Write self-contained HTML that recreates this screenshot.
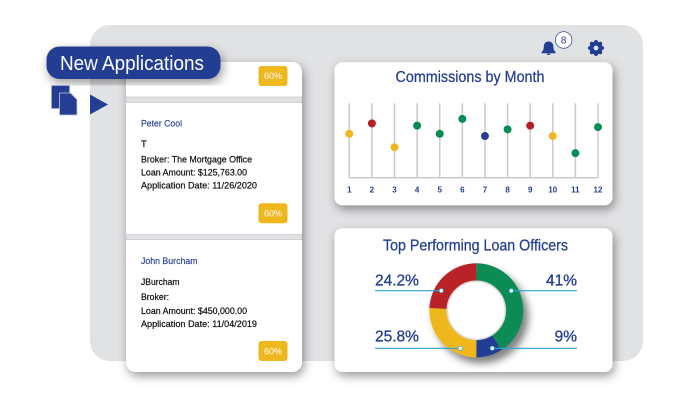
<!DOCTYPE html>
<html lang="en">
<head>
<meta charset="utf-8">
<title>Loan dashboard</title>
<style>
html,body{margin:0;padding:0;background:#fff}
svg{display:block}
text{font-family:"Liberation Sans",sans-serif}
.d{font-size:9.5px;fill:#111;stroke:#111;stroke-width:.22px}
.b{font-size:9px;fill:#fff;text-anchor:middle}
.n{stroke:#233e92;stroke-width:.15px}
.t{stroke:#233e92;stroke-width:.25px}
</style>
</head>
<body>
<svg id="page" width="696" height="402" viewBox="0 0 696 402" xmlns="http://www.w3.org/2000/svg">
<defs>
<filter id="sh" x="-20%" y="-20%" width="140%" height="140%"><feDropShadow dx="2" dy="4" stdDeviation="5" flood-color="#000" flood-opacity=".4"/></filter>
<filter id="sh2" x="-30%" y="-30%" width="170%" height="170%"><feDropShadow dx="5" dy="6" stdDeviation="4" flood-color="#000" flood-opacity=".5"/></filter>
<clipPath id="cc"><rect x="126" y="62" width="176" height="310" rx="10"/></clipPath>
</defs>
<rect x="90" y="25" width="553" height="336" rx="20" fill="#e1e2e4"/>

<g>
<rect x="126" y="62" width="176" height="310" rx="10" fill="#fff" filter="url(#sh)"/>
<g clip-path="url(#cc)">
<rect x="126" y="97" width="176" height="5.5" fill="#e1e2e4" stroke="#c9cacc" stroke-width=".8"/>
<rect x="126" y="234.5" width="176" height="5" fill="#e1e2e4" stroke="#c9cacc" stroke-width=".8"/>
</g>
<rect x="258.5" y="66" width="29" height="20" rx="3" fill="#efb71e"/>
<text class="b" x="273" y="79">60%</text>
<text class="n" x="141" y="126.7" font-size="9.5" fill="#233e92" textLength="41" lengthAdjust="spacingAndGlyphs">Peter Cool</text>
<text class="d" x="141" y="147">T</text>
<text class="d" x="141" y="162.7" textLength="111" lengthAdjust="spacingAndGlyphs">Broker: The Mortgage Office</text>
<text class="d" x="141" y="175.7" textLength="106" lengthAdjust="spacingAndGlyphs">Loan Amount: $125,763.00</text>
<text class="d" x="141" y="188.7" textLength="116" lengthAdjust="spacingAndGlyphs">Application Date: 11/26/2020</text>
<rect x="258.5" y="203.3" width="29" height="20" rx="3" fill="#efb71e"/>
<text class="b" x="273" y="216.5">60%</text>
<text class="n" x="141" y="264" font-size="9.5" fill="#233e92" textLength="56.5" lengthAdjust="spacingAndGlyphs">John Burcham</text>
<text class="d" x="141" y="285" textLength="38.5" lengthAdjust="spacingAndGlyphs">JBurcham</text>
<text class="d" x="141" y="300" textLength="28" lengthAdjust="spacingAndGlyphs">Broker:</text>
<text class="d" x="141" y="314" textLength="106" lengthAdjust="spacingAndGlyphs">Loan Amount: $450,000.00</text>
<text class="d" x="141" y="327" textLength="116" lengthAdjust="spacingAndGlyphs">Application Date: 11/04/2019</text>
<rect x="258.5" y="341" width="29" height="20" rx="3" fill="#efb71e"/>
<text class="b" x="273" y="354.5">60%</text>
</g>

<g>
<rect x="46.5" y="46.5" width="174" height="32.5" rx="13" fill="#233e92" filter="url(#sh)"/>
<text x="60" y="70" font-size="20" fill="#fff" textLength="144" lengthAdjust="spacingAndGlyphs">New Applications</text>
</g>
<g>
<rect x="51.5" y="85.5" width="18" height="23" fill="#233e92" stroke="#aab2d0" stroke-width=".6"/>
<path d="M59.5 93h11l6.5 6.5V115H59.5z" fill="#233e92" stroke="#c4c9de" stroke-width=".8"/>
</g>
<path d="M90 94.5L108 104.5L90 114.5z" fill="#233e92"/>

<g>
<path d="M548.6 41.5c-3.6 0-4.8 2.8-4.8 5.4 0 2.8-.9 3.9-2.2 5.2v1.2h14v-1.2c-1.3-1.3-2.2-2.4-2.2-5.2 0-2.6-1.2-5.4-4.8-5.4zM546.6 53.6a2.1 2.1 0 0 0 4 0z" fill="#233e92"/>
<circle cx="563.7" cy="40" r="8.3" fill="#fff" stroke="#233e92" stroke-width=".7"/>
<text x="563.7" y="43.5" font-size="10" fill="#233e92" text-anchor="middle">8</text>
</g>
<g>
<circle cx="596" cy="48" r="4.4" fill="none" stroke="#233e92" stroke-width="4"/>
<circle cx="596" cy="42" r="2" fill="#233e92"/><circle cx="596" cy="54" r="2" fill="#233e92"/>
<circle cx="590" cy="48" r="2" fill="#233e92"/><circle cx="602" cy="48" r="2" fill="#233e92"/>
<circle cx="591.8" cy="43.8" r="2" fill="#233e92"/><circle cx="600.2" cy="43.8" r="2" fill="#233e92"/>
<circle cx="591.8" cy="52.2" r="2" fill="#233e92"/><circle cx="600.2" cy="52.2" r="2" fill="#233e92"/>
</g>

<g>
<rect x="334.5" y="62.3" width="278" height="143" rx="8" fill="#fff" filter="url(#sh)"/>
<text class="t" x="395.5" y="82" font-size="16" fill="#233e92" textLength="149" lengthAdjust="spacingAndGlyphs">Commissions by Month</text>
<g id="lollipop"></g>
</g>

<g>
<rect x="334.5" y="228.3" width="278" height="143.7" rx="8" fill="#fff" filter="url(#sh)"/>
<text class="t" x="383" y="250.5" font-size="16" fill="#233e92" textLength="185" lengthAdjust="spacingAndGlyphs">Top Performing Loan Officers</text>
<g id="donut"></g>
</g>

<script>
const months = ["1","2","3","4","5","6","7","8","9","10","11","12"];
const commissions = [59,73,41,70,59,79,56,65,70,56,33,68];
const pointColors = ["#efb71e","#b92025","#efb71e","#078b55","#078b55","#078b55","#233e92","#078b55","#b92025","#efb71e","#078b55","#078b55"];
const officerShares = [41,9,25.8,24.2];
const sliceColors = ["#078b55","#233e92","#efb71e","#b92025"];

const NS = "http://www.w3.org/2000/svg";
function make(tag, attrs, parent){
  const el = document.createElementNS(NS, tag);
  for (const k in attrs) el.setAttribute(k, attrs[k]);
  parent.appendChild(el);
  return el;
}

const lolli = document.getElementById("lollipop");
const xPos = i => 349.3 + i * (598 - 349.3) / (months.length - 1);
const yPos = v => 177.7 - v * 0.744;
const axisLine = make("line", {x1:xPos(0), x2:xPos(months.length-1), y1:yPos(0), y2:yPos(0), stroke:"#c9cacc", "stroke-width":1.5}, lolli);


months.forEach((m, i) => {
  const stem = make("line", {x1:xPos(i), x2:xPos(i), y1:yPos(100), y2:yPos(0), stroke:"#c9cacc", "stroke-width":1.5}, lolli);
  
  
  const dot = make("circle", {cx:xPos(i), cy:yPos(commissions[i]), r:4, fill:pointColors[i]}, lolli);
  
  
  const tick = make("text", {x:xPos(i), y:192.3, "font-size":8, "font-weight":"bold", fill:"#233e92", "text-anchor":"middle"}, lolli);
  
  
  tick.textContent = m;
});

const donut = document.getElementById("donut");
const cx = 476.3, cy = 310.3, rOuter = 47, rInner = 29;
const total = officerShares.reduce((a, b) => a + b, 0);
const ringGroup = make("g", {filter:"url(#sh2)"}, donut);


const pt = (r, f) => {
  const a = f * 2 * Math.PI;
  return (cx + r * Math.sin(a)).toFixed(2) + " " + (cy - r * Math.cos(a)).toFixed(2);
};
let acc = 0;
officerShares.forEach((v, i) => {
  const f0 = acc / total, f1 = (acc + v) / total;
  acc += v;
  const large = f1 - f0 > 0.5 ? 1 : 0;
  const d = "M" + pt(rOuter, f0) + "A" + rOuter + " " + rOuter + " 0 " + large + " 1 " + pt(rOuter, f1) +
            "L" + pt(rInner, f1) + "A" + rInner + " " + rInner + " 0 " + large + " 0 " + pt(rInner, f0) + "Z";
  const slice = make("path", {d:d, fill:sliceColors[i]}, ringGroup);
  
  
});
const hole = make("circle", {cx:cx, cy:cy, r:rInner, fill:"#fff", stroke:"#dcdcdc", "stroke-width":1.6}, donut);



officerShares.forEach((v, i) => {
  const isTop = i === 0 || i === 3, isRight = i < 2;
  const ly = isTop ? 290.7 : 348.3;
  const dx = isTop ? 35 : 16;
  const dotX = cx + (isRight ? dx : -dx);
  const edge = isRight ? 577 : 375;
  const leader = make("line", {x1:edge, x2:dotX, y1:ly, y2:ly, stroke:"#29a5d6", "stroke-width":1.1}, donut);
  
  
  const node = make("circle", {cx:dotX, cy:ly, r:2.1, fill:"#fff", stroke:"#29a5d6", "stroke-width":.7}, donut);
  
  
  const label = make("text", {x:edge, y:isTop ? 285.3 : 341.7, "font-size":15.5, fill:"#233e92", stroke:"#233e92", "stroke-width":.3, "text-anchor":isRight ? "end" : "start"}, donut);
  
  
  label.textContent = v + "%";
});
</script>
</svg>
</body>
</html>
